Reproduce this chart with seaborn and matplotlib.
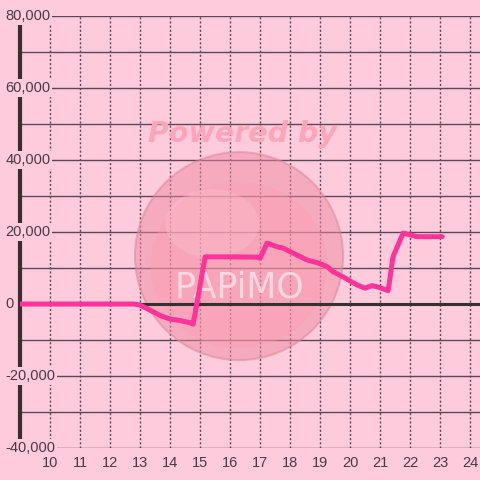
import matplotlib
matplotlib.use("Agg")
import matplotlib.pyplot as plt
import seaborn as sns
from matplotlib.patches import Ellipse

# hour of day vs. value
hours = [9.0, 12.8, 13.0, 13.33, 13.67, 14.0, 14.33, 14.67, 14.77, 15.17,
         16.0, 16.93, 17.0, 17.23, 17.57, 17.77, 18.23, 18.57, 18.9, 19.23,
         19.43, 19.77, 20.23, 20.5, 20.73, 20.93, 21.27, 21.43, 21.77, 22.23, 23.07]
values = [0, 0, -300, -1700, -3200, -4200, -4600, -5200, -5600, 13100,
          13100, 13000, 12700, 16900, 15900, 15500, 13600, 12200, 11500, 10400,
          9000, 7500, 5300, 4400, 5100, 4700, 3700, 13100, 19700, 18700, 18700]

x_ticks = list(range(10, 25))
y_major = [-40000, -20000, 0, 20000, 40000, 60000, 80000]
y_grid = list(range(-40000, 80001, 10000))

bg = "#fdcbdb"
dark = "#4a3a44"
grid_c = "#5e4656"
line_c = "#ff3399"

sns.set_style("white")
plt.rcParams["font.family"] = ["Liberation Sans", "DejaVu Sans"]

fig = plt.figure(figsize=(4.8, 4.8), dpi=100, facecolor=bg)
ax = fig.add_axes([20 / 480, 32 / 480, 460 / 480, 432 / 480])
ax.set_facecolor(bg)

for y in y_grid:
    ax.axhline(y, color=grid_c, lw=1, zorder=1)
for x in x_ticks:
    ax.axvline(x, color=grid_c, lw=1, ls=(0, (1.5, 1.5)), zorder=1)

# watermark bubble
cx, cy = 16.3, 13300
w, h = 208 / 30, 208 / 3.6 * 1000
ax.add_patch(Ellipse((cx, cy), w, h, fc="#ee8aa2", ec="#d4869c", lw=1.5,
                     alpha=0.5, zorder=1.5))
ax.add_patch(Ellipse((cx, cy - 2500), w * 0.85, h * 0.8, fc="#ff9cb2",
                     ec="none", alpha=0.35, zorder=1.6))
ax.add_patch(Ellipse((cx - 0.9, cy + 9000), w * 0.45, h * 0.33, fc="#ffc8d6",
                     ec="none", alpha=0.3, zorder=1.6))
ax.text(16.4, 47300, "Powered by", ha="center", va="center", fontsize=20.5,
        fontweight="bold", fontstyle="italic", color="#ffa5b9",
        family="DejaVu Sans", zorder=1.7)
ax.text(16.33, 4700, "PAPiMO", ha="center", va="center", fontsize=25,
        color="#fde0e8", alpha=0.85, family="DejaVu Sans", zorder=1.7)

ax.axhline(0, color="#38302f", lw=2.2, zorder=2)
sns.lineplot(x=hours, y=values, color=line_c, lw=3.6, ax=ax, zorder=4)

ax.set_xlim(9.0, 24.33)
ax.set_ylim(-40000, 80000)
ax.set_xticks(x_ticks)
ax.set_yticks([])
ax.tick_params(axis="x", length=0, pad=6, labelsize=10.5, labelcolor=dark)

# y labels start left of the spine and sit on top of it
for v in y_major:
    ax.text(8.52, v, f"{v:,}", ha="left", va="center", fontsize=10.5,
            color=dark, zorder=6, clip_on=False,
            bbox=dict(fc=bg, ec="none", pad=1.2))

for s in ["top", "right", "bottom"]:
    ax.spines[s].set_visible(False)
ax.spines["left"].set_color("#38302f")
ax.spines["left"].set_linewidth(3)
ax.spines["left"].set_zorder(3)
ax.set_xlabel("")
ax.set_ylabel("")

fig.savefig("out.png", dpi=100, facecolor=bg)
